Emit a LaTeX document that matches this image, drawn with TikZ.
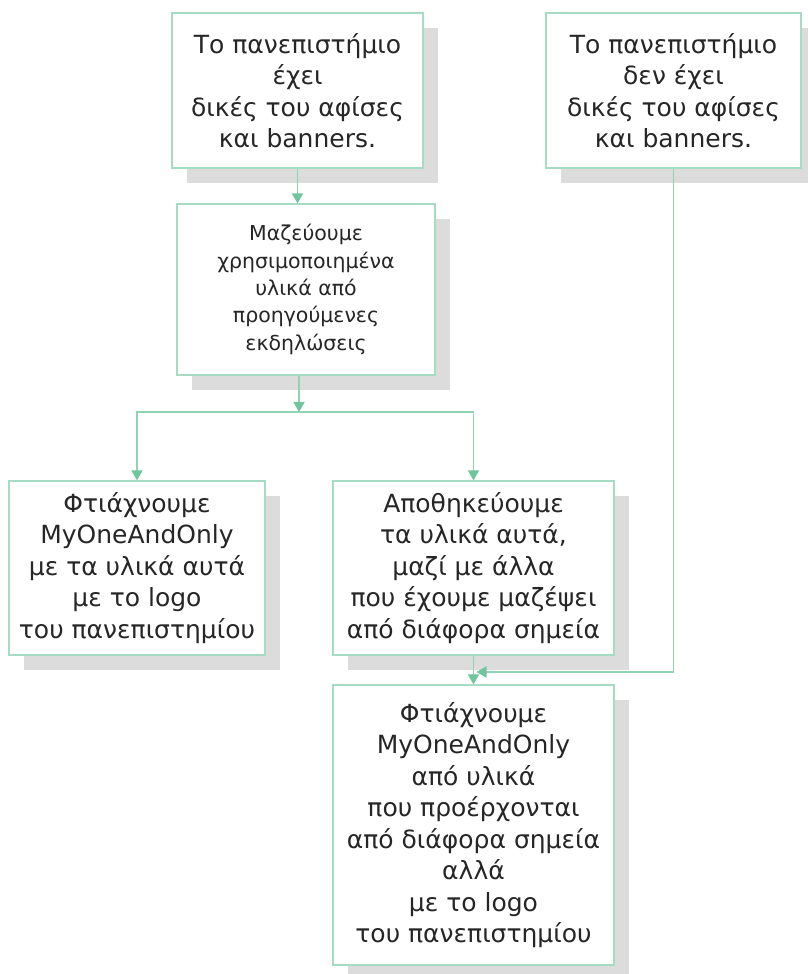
\documentclass[tikz,border=0pt]{standalone}
\usepackage{fontspec}
\setmainfont{DejaVu Sans}
\usepackage{tikz}
\usetikzlibrary{positioning}
\usetikzlibrary{arrows.meta}
\usetikzlibrary{shadows}
\definecolor{boxline}{HTML}{A6DCC3}
\definecolor{arrline}{HTML}{8FD3B3}
\definecolor{arrhead}{HTML}{6FC59C}
\definecolor{shadowgray}{HTML}{DCDCDC}
\definecolor{txtgray}{HTML}{262626}
\tikzset{boxstyle/.style={
    draw=boxline,
    line width=1.2pt,
    fill=white,
    align=center,
    text=txtgray,
    inner sep=0pt,
    drop shadow={shadow xshift=15pt,shadow yshift=-15pt,fill=shadowgray,opacity=1},
    font=\fontsize{25}{31.5}\selectfont
  },
  smallbox/.style={
    boxstyle,
    font=\fontsize{20.5}{27.3}\selectfont
  },
  flow/.style={
    draw=arrline,
    line width=1.6pt,
    -{Triangle[length=10pt,width=11pt,fill=arrhead,color=arrhead]}
  }
}

\begin{document}
\begin{tikzpicture}[x=1pt,y=-1pt]
    \useasboundingbox (0,0) rectangle (807,974);

    % top row
    \node [boxstyle,minimum width=251pt,minimum height=155pt] (has) at (297.5,90.5)
        {Το πανεπιστήμιο\\ έχει\\ δικές του αφίσες\\ και banners.};
    \node [boxstyle,minimum width=255pt,minimum height=155pt] (hasnot) at (673.5,90.5)
        {Το πανεπιστήμιο\\ δεν έχει\\ δικές του αφίσες\\ και banners.};

    % collect
    \node [smallbox,minimum width=258pt,minimum height=171pt] (collect) at (306,289.5)
        {Μαζεύουμε\\ χρησιμοποιημένα\\ υλικά από\\ προηγούμενες\\ εκδηλώσεις};

    % two choices
    \node [boxstyle,minimum width=256pt,minimum height=174pt] (make) at (137,568)
        {Φτιάχνουμε\\ MyOneAndOnly\\ με τα υλικά αυτά\\ με το logo\\ του πανεπιστημίου};
    \node [boxstyle,minimum width=281pt,minimum height=174pt] (store) at (473.5,568)
        {Αποθηκεύουμε\\ τα υλικά αυτά,\\ μαζί με άλλα\\ που έχουμε μαζέψει\\ από διάφορα σημεία};

    % final
    \node [boxstyle,minimum width=281pt,minimum height=280pt] (final) at (473.5,825)
        {Φτιάχνουμε\\ MyOneAndOnly\\ από υλικά\\ που προέρχονται\\ από διάφορα σημεία\\ αλλά\\ με το logo\\ του πανεπιστημίου};

    \coordinate (split) at (299,412);
    \coordinate (join) at (473.5,672);

    \draw [flow] (has.south) -- (has.south |- collect.north);
    \draw [flow] (split |- collect.south) -- (split);
    \draw [flow] (split) -| (make.north);
    \draw [flow] (split) -| (store.north);
    \draw [flow] (store.south) -- (final.north);
    \draw [flow] (hasnot.south) |- ([xshift=3pt]join);
\end{tikzpicture}
\end{document}
